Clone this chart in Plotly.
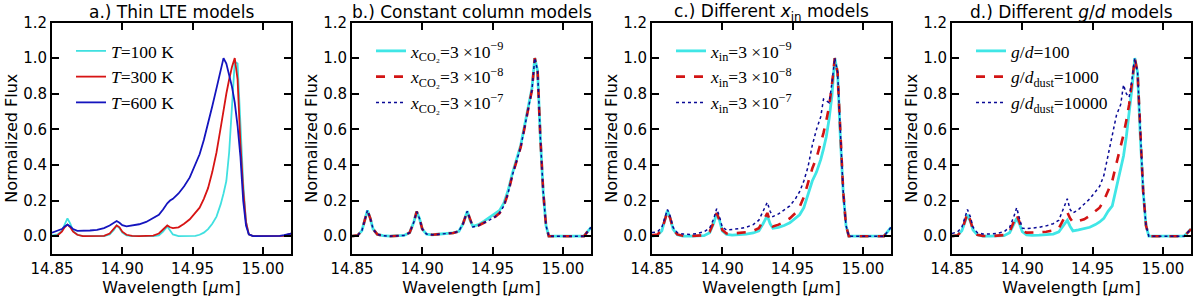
import plotly.graph_objects as go

# ---------------- data ----------------
wavelength = [14.850, 14.854, 14.857, 14.859, 14.861, 14.863, 14.865, 14.868, 14.872, 14.877,
              14.882, 14.887, 14.891, 14.894, 14.896, 14.898, 14.900, 14.903, 14.907, 14.912,
              14.917, 14.922, 14.926, 14.929, 14.932, 14.934, 14.936, 14.940, 14.944, 14.948,
              14.952, 14.955, 14.958, 14.961, 14.964, 14.967, 14.970, 14.972, 14.974, 14.976,
              14.978, 14.980, 14.982, 14.984, 14.986, 14.988, 14.990, 14.993, 14.997, 15.002,
              15.007, 15.012, 15.015, 15.017, 15.020]

# a.) Thin LTE models
a_T100 = [0.005, 0.01, 0.03, 0.07, 0.10, 0.07, 0.03, 0.008, 0.0, 0.0,
          0.0, 0.0, 0.01, 0.035, 0.06, 0.045, 0.02, 0.005, 0.0, 0.0,
          0.0, 0.0, 0.005, 0.025, 0.055, 0.035, 0.01, 0.0, 0.0, 0.0,
          0.002, 0.008, 0.02, 0.04, 0.07, 0.11, 0.18, 0.24, 0.31, 0.47,
          0.76, 0.98, 0.97, 0.6, 0.3, 0.08, 0.01, 0.0, 0.0, 0.0,
          0.0, 0.0, 0.002, 0.008, 0.015]
a_T300 = [0.0, 0.005, 0.025, 0.05, 0.065, 0.05, 0.025, 0.008, 0.0, 0.0,
          0.0, 0.002, 0.015, 0.045, 0.06, 0.05, 0.025, 0.008, 0.002, 0.0,
          0.0, 0.003, 0.015, 0.04, 0.06, 0.05, 0.045, 0.05, 0.07, 0.095,
          0.13, 0.16, 0.21, 0.27, 0.36, 0.47, 0.61, 0.71, 0.80, 0.88,
          0.95, 1.0, 0.88, 0.52, 0.26, 0.08, 0.01, 0.0, 0.0, 0.0,
          0.0, 0.0, 0.002, 0.008, 0.015]
a_T600 = [0.02, 0.03, 0.04, 0.055, 0.065, 0.055, 0.04, 0.03, 0.03, 0.032,
          0.036, 0.045, 0.06, 0.075, 0.085, 0.075, 0.062, 0.055, 0.06, 0.067,
          0.08, 0.10, 0.12, 0.15, 0.185, 0.20, 0.21, 0.24, 0.28, 0.33,
          0.40, 0.46, 0.54, 0.63, 0.73, 0.83, 0.93, 1.0, 0.97, 0.91,
          0.84, 0.75, 0.62, 0.45, 0.20, 0.06, 0.01, 0.0, 0.0, 0.0,
          0.0, 0.002, 0.006, 0.01, 0.015]

# b.) Constant column models
b_x9 = [0.0, 0.005, 0.03, 0.09, 0.145, 0.10, 0.04, 0.01, 0.003, 0.0,
        0.0, 0.004, 0.02, 0.08, 0.138, 0.10, 0.04, 0.012, 0.008, 0.01,
        0.013, 0.018, 0.028, 0.07, 0.14, 0.09, 0.055, 0.065, 0.085, 0.105,
        0.125, 0.145, 0.185, 0.255, 0.35, 0.43, 0.51, 0.59, 0.67, 0.73,
        0.83, 1.0, 0.93, 0.55, 0.25, 0.06, 0.0, 0.0, 0.0, 0.0,
        0.0, 0.0, 0.0, 0.02, 0.05]
b_x8 = [0.0, 0.005, 0.03, 0.09, 0.145, 0.10, 0.04, 0.01, 0.003, 0.0,
        0.0, 0.004, 0.02, 0.08, 0.138, 0.10, 0.04, 0.012, 0.008, 0.01,
        0.013, 0.018, 0.028, 0.07, 0.14, 0.09, 0.052, 0.06, 0.075, 0.092,
        0.11, 0.13, 0.17, 0.24, 0.34, 0.42, 0.50, 0.58, 0.66, 0.72,
        0.82, 1.0, 0.93, 0.55, 0.25, 0.06, 0.0, 0.0, 0.0, 0.0,
        0.0, 0.0, 0.0, 0.02, 0.05]
b_x7 = [0.0, 0.005, 0.03, 0.09, 0.145, 0.10, 0.04, 0.01, 0.003, 0.0,
        0.0, 0.004, 0.02, 0.08, 0.138, 0.10, 0.04, 0.012, 0.008, 0.01,
        0.013, 0.018, 0.028, 0.07, 0.14, 0.09, 0.052, 0.06, 0.075, 0.092,
        0.11, 0.13, 0.17, 0.24, 0.34, 0.42, 0.50, 0.58, 0.66, 0.72,
        0.82, 1.0, 0.93, 0.55, 0.25, 0.06, 0.0, 0.0, 0.0, 0.0,
        0.0, 0.0, 0.0, 0.02, 0.05]

# c.) Different x_in models
c_x9 = [0.0, 0.005, 0.03, 0.09, 0.145, 0.10, 0.04, 0.008, 0.0, 0.0,
        0.0, 0.003, 0.02, 0.075, 0.13, 0.09, 0.03, 0.01, 0.006, 0.008,
        0.012, 0.018, 0.03, 0.07, 0.115, 0.07, 0.045, 0.05, 0.06, 0.075,
        0.10, 0.12, 0.16, 0.23, 0.31, 0.36, 0.43, 0.49, 0.56, 0.66,
        0.79, 1.0, 0.92, 0.55, 0.25, 0.06, 0.0, 0.0, 0.0, 0.0,
        0.0, 0.0, 0.0, 0.02, 0.05]
c_x8 = [0.005, 0.01, 0.035, 0.09, 0.14, 0.10, 0.04, 0.01, 0.003, 0.0,
        0.002, 0.006, 0.025, 0.08, 0.13, 0.09, 0.035, 0.015, 0.015, 0.018,
        0.022, 0.03, 0.045, 0.085, 0.13, 0.085, 0.055, 0.065, 0.08, 0.10,
        0.13, 0.165, 0.22, 0.30, 0.38, 0.44, 0.52, 0.58, 0.65, 0.73,
        0.85, 1.0, 0.92, 0.55, 0.25, 0.06, 0.0, 0.0, 0.0, 0.0,
        0.0, 0.0, 0.0, 0.02, 0.05]
c_x7 = [0.02, 0.025, 0.05, 0.10, 0.15, 0.11, 0.05, 0.02, 0.012, 0.01,
        0.015, 0.025, 0.045, 0.10, 0.155, 0.11, 0.05, 0.035, 0.038, 0.042,
        0.05, 0.065, 0.09, 0.14, 0.19, 0.14, 0.11, 0.125, 0.145, 0.17,
        0.21, 0.25, 0.31, 0.39, 0.51, 0.60, 0.67, 0.77, 0.76, 0.75,
        0.86, 1.0, 0.92, 0.55, 0.25, 0.06, 0.0, 0.0, 0.0, 0.0,
        0.0, 0.0, 0.0, 0.02, 0.05]

# d.) Different g/d models
d_gd100 = [0.0, 0.005, 0.03, 0.08, 0.12, 0.085, 0.035, 0.008, 0.0, 0.0,
           0.0, 0.003, 0.02, 0.07, 0.10, 0.07, 0.025, 0.008, 0.005, 0.006,
           0.008, 0.012, 0.025, 0.06, 0.09, 0.055, 0.03, 0.035, 0.042, 0.05,
           0.065, 0.08, 0.10, 0.14, 0.17, 0.27, 0.37, 0.45, 0.56, 0.68,
           0.83, 1.0, 0.92, 0.55, 0.25, 0.06, 0.0, 0.0, 0.0, 0.0,
           0.0, 0.0, 0.0, 0.015, 0.04]
d_gd1000 = [0.0, 0.005, 0.03, 0.085, 0.13, 0.09, 0.035, 0.008, 0.002, 0.0,
            0.002, 0.006, 0.025, 0.08, 0.12, 0.08, 0.03, 0.02, 0.02, 0.022,
            0.025, 0.032, 0.045, 0.09, 0.135, 0.10, 0.078, 0.085, 0.095, 0.115,
            0.14, 0.16, 0.20, 0.25, 0.31, 0.41, 0.50, 0.57, 0.65, 0.74,
            0.86, 1.0, 0.92, 0.55, 0.25, 0.06, 0.0, 0.0, 0.0, 0.0,
            0.0, 0.0, 0.0, 0.015, 0.04]
d_gd10000 = [0.015, 0.025, 0.05, 0.10, 0.15, 0.11, 0.05, 0.02, 0.012, 0.012,
             0.016, 0.025, 0.05, 0.11, 0.16, 0.10, 0.045, 0.042, 0.045, 0.05,
             0.058, 0.07, 0.09, 0.15, 0.21, 0.15, 0.13, 0.15, 0.18, 0.21,
             0.25, 0.28, 0.34, 0.46, 0.58, 0.68, 0.74, 0.85, 0.80, 0.78,
             0.88, 1.0, 0.92, 0.55, 0.25, 0.06, 0.0, 0.0, 0.0, 0.0,
             0.0, 0.0, 0.0, 0.015, 0.04]

x_tickvals = [14.85, 14.90, 14.95, 15.00]
x_ticklabels = ["14.85", "14.90", "14.95", "15.00"]
y_tickvals = [0.0, 0.2, 0.4, 0.6, 0.8, 1.0, 1.2]
y_ticklabels = ["0.0", "0.2", "0.4", "0.6", "0.8", "1.0", "1.2"]

titles = ["a.) Thin LTE models",
          "b.) Constant column models",
          "c.) Different <i>x</i><sub>in</sub> models",
          "d.) Different <i>g</i>/<i>d</i> models"]

labels = [
    ["<i>T</i>=100 K", "<i>T</i>=300 K", "<i>T</i>=600 K"],
    ["<i>x</i><sub>CO₂</sub>=3 ×10<sup>−9</sup>", "<i>x</i><sub>CO₂</sub>=3 ×10<sup>−8</sup>",
     "<i>x</i><sub>CO₂</sub>=3 ×10<sup>−7</sup>"],
    ["<i>x</i><sub>in</sub>=3 ×10<sup>−9</sup>", "<i>x</i><sub>in</sub>=3 ×10<sup>−8</sup>",
     "<i>x</i><sub>in</sub>=3 ×10<sup>−7</sup>"],
    ["<i>g</i>/<i>d</i>=100", "<i>g</i>/<i>d</i><sub>dust</sub>=1000",
     "<i>g</i>/<i>d</i><sub>dust</sub>=10000"],
]
series = [[a_T100, a_T300, a_T600],
          [b_x9, b_x8, b_x7],
          [c_x9, c_x8, c_x7],
          [d_gd100, d_gd1000, d_gd10000]]

# ---------------- style ----------------
W, H = 1200, 301
lefts = [52, 352, 652, 952]
plot_w = 239
top_px, bot_px = 22.5, 254

styles_a = [dict(color="rgb(64,224,224)", width=1.8, dash="solid"),
            dict(color="rgb(215,20,20)", width=1.8, dash="solid"),
            dict(color="rgb(20,20,190)", width=1.8, dash="solid")]
styles_other = [dict(color="rgb(64,230,230)", width=2.8, dash="solid"),
                dict(color="rgb(210,20,20)", width=2.6, dash="dash"),
                dict(color="rgb(10,10,150)", width=1.5, dash="dot")]

fig = go.Figure()
layout = dict(width=W, height=H, margin=dict(l=0, r=0, t=0, b=0, autoexpand=False),
              paper_bgcolor="white", plot_bgcolor="white", annotations=[])

ydom = [1 - bot_px / H, 1 - top_px / H]
axis_common = dict(showline=True, linewidth=2, linecolor="black", mirror="ticks",
                   ticks="inside", ticklen=7, tickwidth=1.5, tickcolor="black",
                   showgrid=False, zeroline=False, automargin=False,
                   tickfont=dict(family="DejaVu Sans", size=15, color="black"))

for i in range(4):
    sfx = "" if i == 0 else str(i + 1)
    xa, ya = "x" + sfx, "y" + sfx
    leg = "legend" + sfx
    sty = styles_a if i == 0 else styles_other
    for j in range(3):
        fig.add_trace(go.Scatter(x=wavelength, y=series[i][j], mode="lines",
                                 name=labels[i][j], line=sty[j],
                                 xaxis=xa, yaxis=ya, legend=leg))
    xd = [lefts[i] / W, (lefts[i] + plot_w) / W]
    layout["xaxis" + sfx] = dict(domain=xd, range=[14.85, 15.02], anchor=ya,
                                 tickvals=x_tickvals, ticktext=x_ticklabels,
                                 title=dict(text="Wavelength [<i>μ</i>m]", standoff=4,
                                            font=dict(family="DejaVu Sans", size=16, color="black")),
                                 **axis_common)
    layout["yaxis" + sfx] = dict(domain=ydom, range=[-0.1, 1.2], anchor=xa,
                                 tickvals=y_tickvals, ticktext=y_ticklabels,
                                 title=dict(text="Normalized Flux", standoff=2,
                                            font=dict(family="DejaVu Sans", size=16, color="black")),
                                 **axis_common)
    layout[leg] = dict(x=(lefts[i] + 19) / W, y=1 - 33 / H, xanchor="left", yanchor="top",
                       bgcolor="rgba(0,0,0,0)", borderwidth=0, itemwidth=30,
                       tracegroupgap=0,
                       font=dict(family="Liberation Serif", size=17.5, color="black"))
    layout["annotations"].append(dict(text=titles[i], x=(lefts[i] + plot_w / 2) / W,
                                      y=1 - 12 / H, xref="paper", yref="paper",
                                      xanchor="center", yanchor="middle", showarrow=False,
                                      font=dict(family="DejaVu Sans", size=17, color="black")))

fig.update_layout(**layout)
fig.write_html("out.html", config={"displayModeBar": False},
               post_script="document.body.style.margin='0px';")
